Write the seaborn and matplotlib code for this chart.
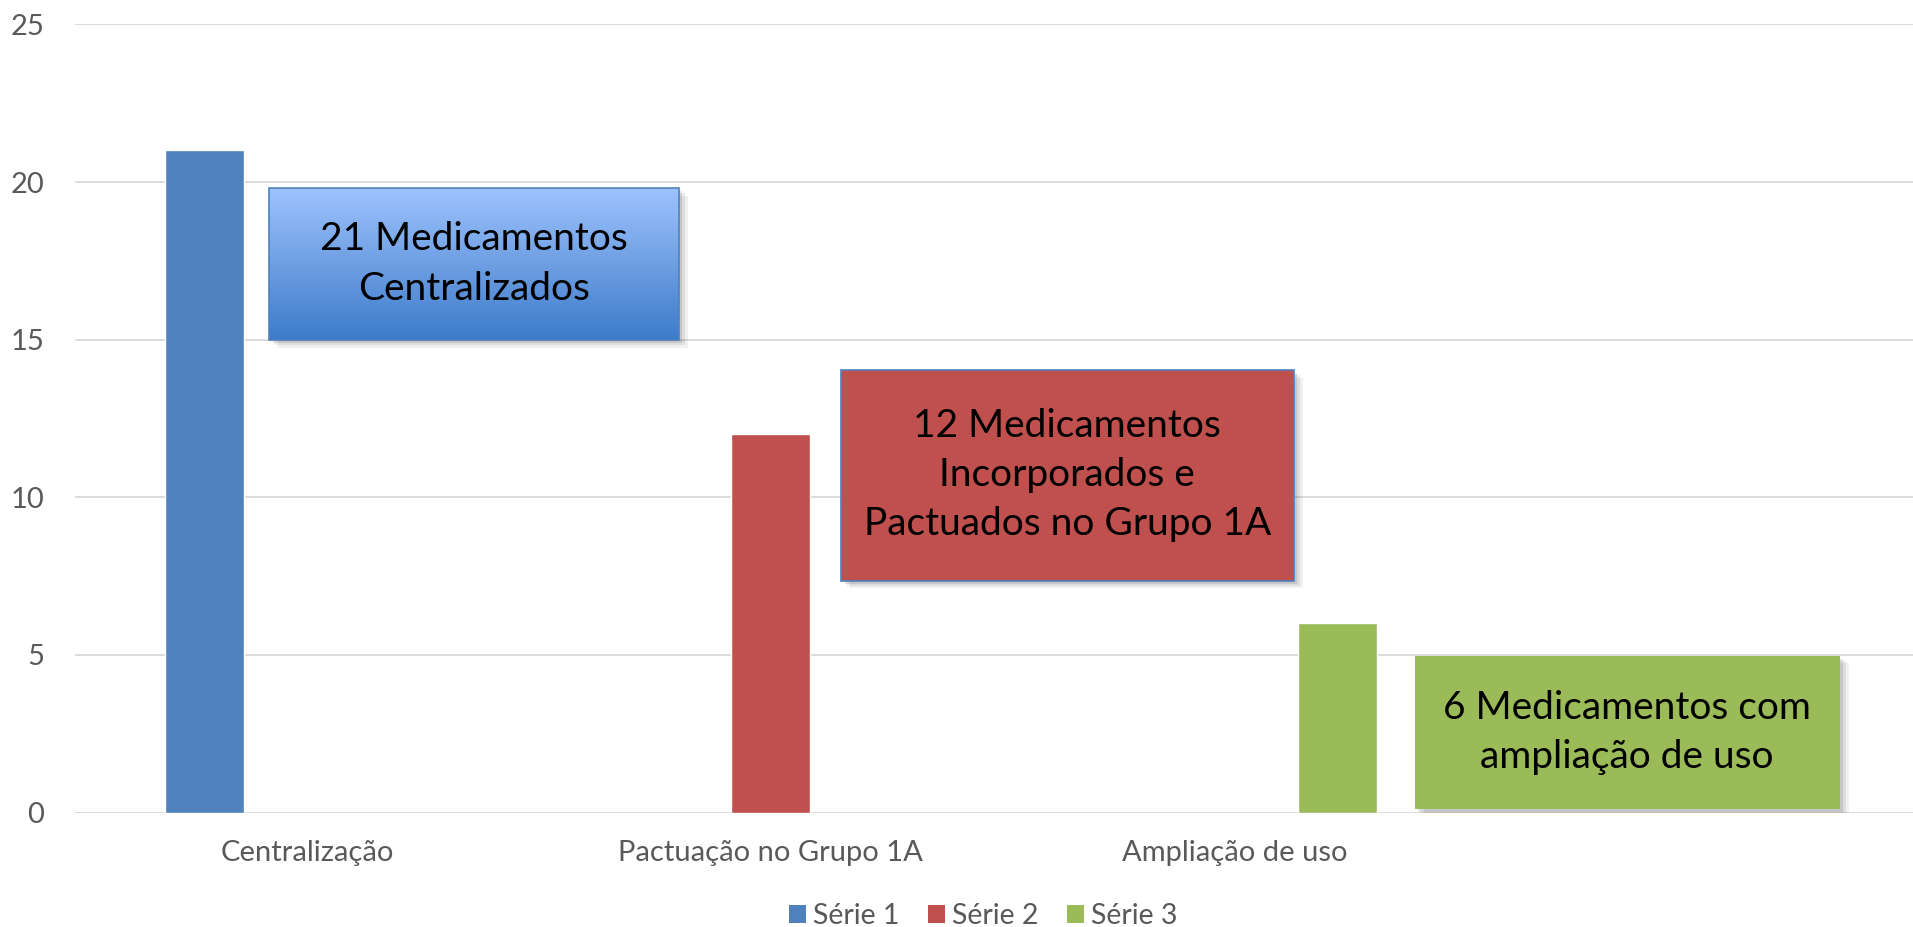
import numpy as np
import pandas as pd
import matplotlib
matplotlib.use("Agg")
import matplotlib.pyplot as plt
from matplotlib.colors import LinearSegmentedColormap
from matplotlib.patches import Rectangle, Patch
import seaborn as sns

# dados
categorias = ["Centralização", "Pactuação no Grupo 1A", "Ampliação de uso"]
series = ["Série 1", "Série 2", "Série 3"]
valores = [21, 12, 6]
cores = ["#4F81BD", "#C0504D", "#9BBB59"]
textos = ["21 Medicamentos\nCentralizados",
          "12 Medicamentos\nIncorporados e\nPactuados no Grupo 1A",
          "6 Medicamentos com\nampliação de uso"]

df = pd.DataFrame({"categoria": categorias, "serie": series, "valor": valores})

sns.set_theme(style="white")
plt.rcParams['font.family'] = ['Lato', 'DejaVu Sans']

fig = plt.figure(figsize=(19.13, 9.27), dpi=100)
ax = fig.add_axes([0.0392, 0.1234, 0.970, 0.8503])

sns.barplot(data=df, x="categoria", y="valor", hue="serie", order=categorias,
            hue_order=series, palette=cores, width=0.665, gap=0.23,
            dodge=True, saturation=1, legend=False, ax=ax)

ax.set_yticks([0, 5, 10, 15, 20, 25])
ax.yaxis.grid(True, color="#D9D9D9", lw=1.3)
ax.set_axisbelow(True)
for s in ax.spines.values():
    s.set_visible(False)
ax.tick_params(axis="both", length=0, colors="#595959", labelsize=21)
ax.tick_params(axis="x", pad=20)
ax.tick_params(axis="y", pad=22)
ax.set_xlabel("")
ax.set_ylabel("")

# caixas de texto (coordenadas de dados: x0, x1, y0, y1)
caixas = [(-0.082, 0.801, 14.99, 19.81),
          (1.1509, 2.1272, 7.35, 14.04),
          (2.388, 3.304, 0.12, 4.97)]
bordas = ["#4F81BD", "#4F81BD", "none"]

grad = LinearSegmentedColormap.from_list("azul", ["#3C7BCB", "#6E9FE3", "#9DC3FD"])

for i, (x0, x1, y0, y1) in enumerate(caixas):
    w, h = x1 - x0, y1 - y0
    # sombra
    for k, a in enumerate([0.10, 0.08, 0.06]):
        d = 0.008 + k * 0.006
        ax.add_patch(Rectangle((x0 + d, y0 - d * 12), w, h, facecolor="#000000",
                               alpha=a, edgecolor="none", zorder=5))
    if i == 0:
        ax.add_patch(Rectangle((x0, y0), w, h, facecolor="#6E9FE3",
                               edgecolor="none", zorder=6))
        im = ax.imshow(np.linspace(0, 1, 256).reshape(-1, 1), cmap=grad,
                       extent=[x0, x1, y0, y1], origin="lower", aspect="auto",
                       zorder=6.5)
        im.set_clip_path(Rectangle((x0, y0), w, h, transform=ax.transData))
        ax.add_patch(Rectangle((x0, y0), w, h, facecolor="none",
                               edgecolor=bordas[i], lw=1.2, zorder=7))
    else:
        ax.add_patch(Rectangle((x0, y0), w, h, facecolor=cores[i],
                               edgecolor=bordas[i], lw=1.2, zorder=7))
    ax.text(x0 + w / 2, y0 + h / 2, textos[i], ha="center", va="center",
            fontsize=28, color="black", linespacing=1.45, zorder=8)

ax.set_aspect("auto")
ax.set_xlim(-0.5, 3.5)
ax.set_ylim(0, 25)

handles = [Patch(facecolor=c, edgecolor="none") for c in cores]
fig.legend(handles, series, loc="lower center", bbox_to_anchor=(0.514, -0.03),
           ncol=3, frameon=False, fontsize=20.5, handlelength=0.6,
           handleheight=0.6, handletextpad=0.25, columnspacing=1.0,
           labelcolor="#595959")

fig.savefig("out.png", dpi=100)
